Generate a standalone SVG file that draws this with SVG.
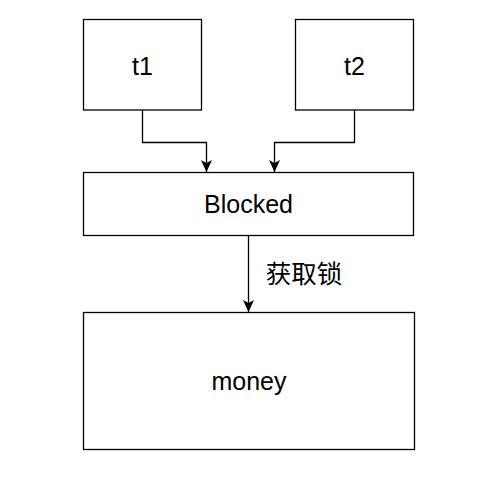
<svg xmlns="http://www.w3.org/2000/svg" width="504" height="482" viewBox="0 0 504 482">
<defs>
<style>
.box{fill:#fff;stroke:#000;stroke-width:1.3}
.lbl{font-family:"Liberation Sans",Arial,sans-serif;font-size:25px;fill:#000;text-anchor:middle;dominant-baseline:central}
.cjk{font-family:"Liberation Sans","Noto Sans CJK SC",sans-serif;font-size:25.5px;fill:#000;text-anchor:middle;dominant-baseline:central}
.edge{fill:none;stroke:#000;stroke-width:1.3}
</style>
<marker id="arr" viewBox="0 0 12 12" refX="12" refY="6" markerWidth="12" markerHeight="12" markerUnits="userSpaceOnUse" orient="auto">
<path d="M0,0.5 L12,6 L0,11.5 L3,6 Z" fill="#000"/>
</marker>
</defs>
<rect width="504" height="482" fill="#fff"/>
<g id="edges">
<path class="edge" d="M142.5,110 V142.5 H206.5 V172" marker-end="url(#arr)"/>
<path class="edge" d="M354.5,110 V142.5 H274.5 V172" marker-end="url(#arr)"/>
<path class="edge" d="M248.5,235.5 V312" marker-end="url(#arr)"/>
<text class="cjk" x="304" y="274">获取锁</text>
</g>
<g id="t1">
<rect class="box" x="83.5" y="19.5" width="118" height="90.5"/>
<text class="lbl" x="142.5" y="66">t1</text>
</g>
<g id="t2">
<rect class="box" x="295.5" y="19.5" width="118" height="90.5"/>
<text class="lbl" x="354.5" y="66">t2</text>
</g>
<g id="blocked">
<rect class="box" x="83.5" y="172.5" width="330" height="63"/>
<text class="lbl" x="248.5" y="204">Blocked</text>
</g>
<g id="money">
<rect class="box" x="83.5" y="312.5" width="331" height="137"/>
<text class="lbl" x="249" y="381">money</text>
</g>
</svg>
